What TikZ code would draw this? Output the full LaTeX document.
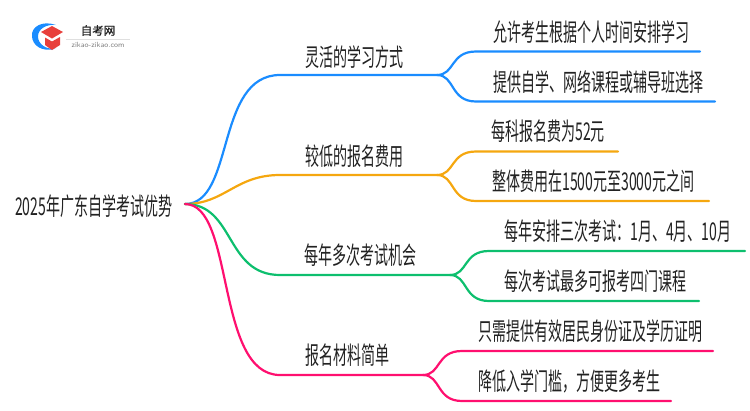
\documentclass[tikz,border=0pt]{standalone}
\usepackage{fontspec}
\usetikzlibrary{positioning}
\newfontfamily\cjk[FakeStretch=0.572]{Noto Sans CJK SC}
\newfontfamily\cjklogo[FakeBold=1.2]{Noto Sans CJK SC}
\definecolor{branchblue}{HTML}{1A8CFF}
\definecolor{branchorange}{HTML}{F5A70F}
\definecolor{branchgreen}{HTML}{0DBF6E}
\definecolor{branchpink}{HTML}{FF0F6F}
\definecolor{logored}{HTML}{E8403C}
\definecolor{textdark}{HTML}{222222}
\begin{document}
\begin{tikzpicture}[
		x=1pt,y=-1pt,
		link/.style={line width=2.2pt,line cap=round},
		every node/.append style={
			inner sep=0pt,
			text=textdark,
			font=\cjk\fontsize{24.5}{26}\selectfont,
		},
		topic/.style={anchor=west},
		detail/.style={anchor=west},
	]
	\useasboundingbox (0,0) rectangle (750,410);
	% logo in the corner
	\fill[branchblue] (56,25) .. controls (42,20) and (31,27) .. (32,36) .. controls (32,45) and (42,53) .. (56,48.5) .. controls (46,50) and (38,44) .. (38,36.5) .. controls (38,29) and (46,24) .. (56,25);
	\fill[logored] (52,26) -- (63,32) -- (52,38.5) -- (41,32) -- cycle;
	\fill[logored] (45,37.5) -- (52,41.5) -- (60,37) -- (60,45) -- (52,50) -- (45,45) -- cycle;
	\node[font=\cjklogo\fontsize{11.5}{14}\selectfont] (logotitle) at (98,30.5) {自考网};
	\draw[gray!25,line width=.6pt] (66,39) -- (130,39);
	\node[font=\fontsize{7.5}{9}\sffamily\selectfont,text=gray] (logourl) at (98,45) {zikao-zikao.com};
	% root on the left
	\node[anchor=west] (root) at (15,206) {2025年广东自学考试优势};
	\coordinate (start) at (185,204);
	% first level
	\node[topic] (flexible) at (305,57) {灵活的学习方式};
	\node[topic] (lowfee) at (305,156) {较低的报名费用};
	\node[topic] (manyexams) at (304,255) {每年多次考试机会};
	\node[topic] (simple) at (305,355) {报名材料简单};
	\coordinate (forkblue) at (437,75);
	\coordinate (forkorange) at (437,175);
	\coordinate (forkgreen) at (450,275);
	\coordinate (forkpink) at (423,375);
	% second level
	\node[detail] (blueone) at (493,32) {允许考生根据个人时间安排学习};
	\node[detail] (bluetwo) at (493,82) {提供自学、网络课程或辅导班选择};
	\node[detail] (orangeone) at (491,131) {每科报名费为52元};
	\node[detail] (orangetwo) at (492,181) {整体费用在1500元至3000元之间};
	\node[detail] (greenone) at (504,231) {每年安排三次考试：1月、4月、10月};
	\node[detail] (greentwo) at (504,281) {每次考试最多可报考四门课程};
	\node[detail] (pinkone) at (478,331) {只需提供有效居民身份证及学历证明};
	\node[detail] (pinktwo) at (478,381) {降低入学门槛，方便更多考生};
	\coordinate (blueoneend) at (700,51.5);
	\coordinate (bluetwoend) at (715,101.5);
	\coordinate (orangeoneend) at (618,151.5);
	\coordinate (orangetwoend) at (709,201);
	\coordinate (greenoneend) at (745,251);
	\coordinate (greentwoend) at (699,301);
	\coordinate (pinkoneend) at (713,351);
	\coordinate (pinktwoend) at (671,401);
	% draw the connection lines
	\draw[link,branchblue] (start) .. controls (235,204) and (215,75) .. (280,75) -- (forkblue);
	\draw[link,branchorange] (start) .. controls (225,204) and (235,175) .. (280,175) -- (forkorange);
	\draw[link,branchgreen] (start) .. controls (235,204) and (225,275) .. (280,275) -- (forkgreen);
	\draw[link,branchpink] (start) .. controls (235,204) and (215,375) .. (280,375) -- (forkpink);
	\draw[link,branchblue] (forkblue) .. controls (455,75) and (450,51.5) .. (476,51.5) -- (blueoneend);
	\draw[link,branchblue] (forkblue) .. controls (455,75) and (450,101.5) .. (476,101.5) -- (bluetwoend);
	\draw[link,branchorange] (forkorange) .. controls (455,175) and (450,151.5) .. (476,151.5) -- (orangeoneend);
	\draw[link,branchorange] (forkorange) .. controls (455,175) and (450,201) .. (476,201) -- (orangetwoend);
	\draw[link,branchgreen] (forkgreen) .. controls (468,275) and (463,251) .. (489,251) -- (greenoneend);
	\draw[link,branchgreen] (forkgreen) .. controls (468,275) and (463,301) .. (489,301) -- (greentwoend);
	\draw[link,branchpink] (forkpink) .. controls (441,375) and (436,351) .. (462,351) -- (pinkoneend);
	\draw[link,branchpink] (forkpink) .. controls (441,375) and (436,401) .. (462,401) -- (pinktwoend);
\end{tikzpicture}
\end{document}
